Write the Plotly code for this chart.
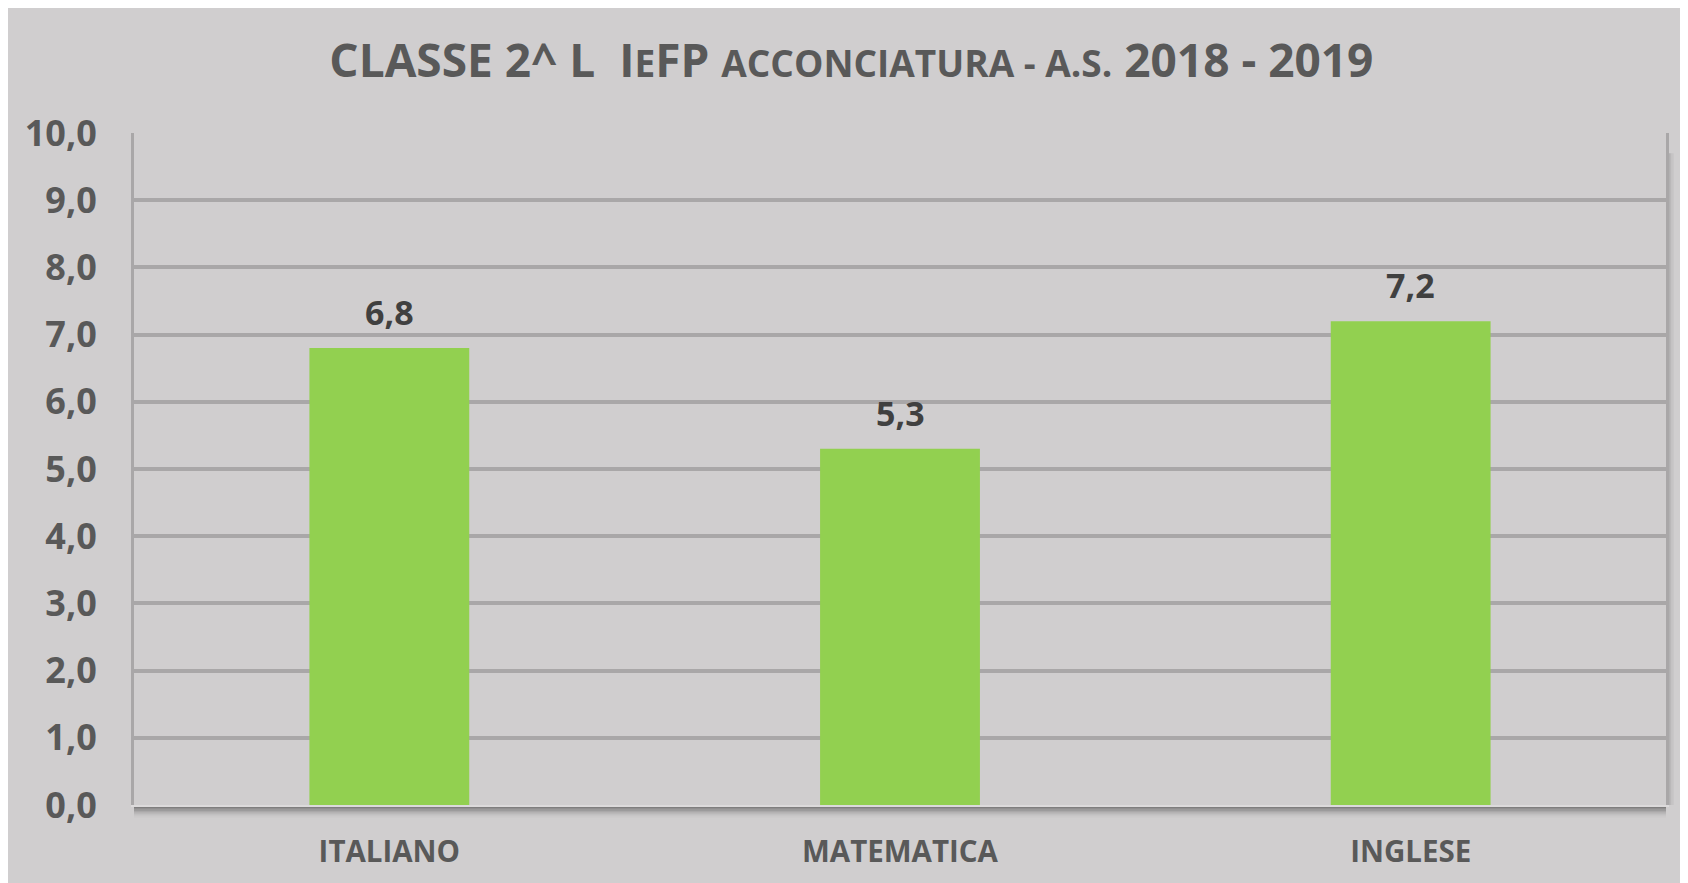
import plotly.graph_objects as go

subjects = ["ITALIANO", "MATEMATICA", "INGLESE"]
grades = [6.8, 5.3, 7.2]
y_ticks = [0, 1, 2, 3, 4, 5, 6, 7, 8, 9, 10]

BG = "#D0CECF"
GREEN = "#92D050"
GRID = "#A9A7A8"
TXT = "#595959"
FONT = "Open Sans"

fig = go.Figure()

fig.add_trace(go.Bar(
    x=subjects,
    y=grades,
    marker=dict(color=GREEN, line=dict(width=0)),
    width=0.313,
    hoverinfo="skip",
))

# value labels above the bars
for s, g in zip(subjects, grades):
    fig.add_annotation(x=s, y=g, xref="x", yref="y",
                       text=("%.1f" % g).replace(".", ","),
                       showarrow=False, yanchor="bottom", yshift=11,
                       font=dict(family=FONT, size=34, color="#404040", weight="bold"))

# shadow under the x axis
for i, op in enumerate([0.55, 0.45, 0.35, 0.26, 0.18, 0.11, 0.06, 0.03]):
    fig.add_shape(type="rect", xref="paper", yref="paper",
                  x0=0, x1=1.0, yanchor=0, ysizemode="pixel",
                  y0=-2 - i * 1.3, y1=-2 - (i + 1) * 1.3,
                  fillcolor="rgba(60,60,60,%s)" % op, line=dict(width=0), layer="below")
# shadow on the right side
for i, op in enumerate([0.25, 0.15, 0.08, 0.04]):
    fig.add_shape(type="rect", xref="paper", yref="paper",
                  xanchor=1, xsizemode="pixel",
                  x0=2 + i * 1.5, x1=2 + (i + 1) * 1.5, y0=0, y1=0.97,
                  fillcolor="rgba(60,60,60,%s)" % op, line=dict(width=0), layer="below")

title_html = ("CLASSE 2^ L  I<span style='font-size:37px'>E</span>FP "
              "<span style='font-size:37px'>ACCONCIATURA - A.S.</span> 2018 - 2019")

fig.update_layout(
    width=1680, height=875,
    paper_bgcolor=BG, plot_bgcolor=BG,
    margin=dict(l=126, r=22, t=125, b=78),
    separators=",.",
    showlegend=False,
    bargap=0.687,
    font=dict(family=FONT, color=TXT),
    title=dict(text=title_html, x=0.502, xanchor="center", y=0.939, yanchor="middle",
               font=dict(family=FONT, size=46, color=TXT, weight="bold")),
    xaxis=dict(
        showgrid=False, showline=True, linecolor="#DCDADB", linewidth=2,
        ticks="outside", ticklen=20, tickcolor="rgba(0,0,0,0)",
        tickfont=dict(family=FONT, size=29.5, color=TXT, weight="bold"),
        automargin=False, fixedrange=True,
    ),
    yaxis=dict(
        range=[0, 10], tickvals=y_ticks, tickformat=".1f",
        showgrid=True, gridcolor=GRID, gridwidth=4,
        zeroline=False,
        showline=True, linecolor="#A9A7A8", linewidth=3, mirror=True,
        ticks="outside", ticklen=27, tickcolor="rgba(0,0,0,0)",
        tickfont=dict(family=FONT, size=36, color=TXT, weight="bold"),
        automargin=False, fixedrange=True,
    ),
)

fig.write_html("out.html")
